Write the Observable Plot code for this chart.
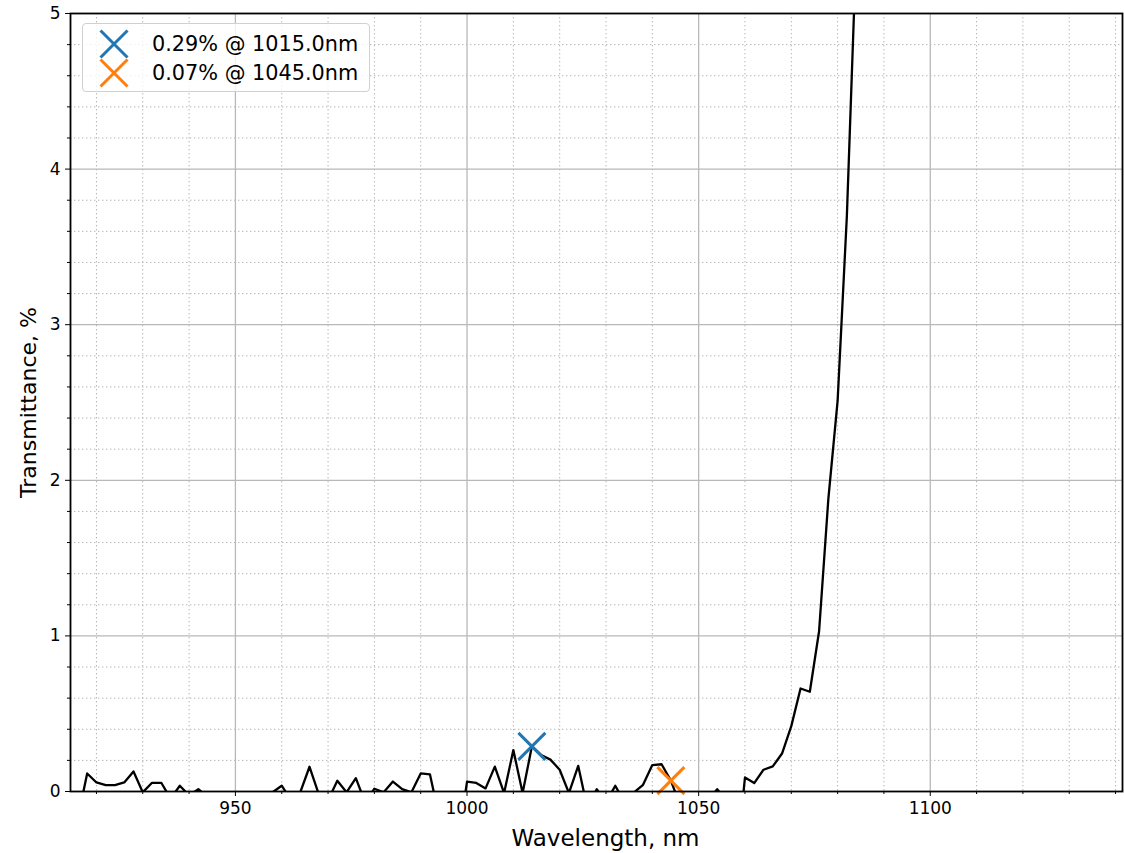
<!DOCTYPE html>
<html>
<head>
<meta charset="utf-8">
<script src="https://cdn.jsdelivr.net/npm/d3@7"></script>
<script src="https://cdn.jsdelivr.net/npm/@observablehq/plot@0.6"></script>
<style>
  html, body { margin: 0; padding: 0; background: white; }
  #wrap { position: relative; width: 1124px; height: 853px; font-family: "DejaVu Sans", sans-serif; }
  #legend {
    position: absolute; left: 82px; top: 23px; width: 288px; height: 69px;
    background: rgba(255,255,255,0.8); border: 1px solid #d0d0d0; border-radius: 4px;
    box-sizing: border-box;
  }
  .entry { position: absolute; left: 0; height: 29px; display: flex; align-items: center; }
  .entry svg { margin-left: 16px; }
  .entry span { margin-left: 23px; font-size: 20.8px; color: #000; white-space: nowrap; }
</style>
</head>
<body>
<div id="wrap"><div id="chart"></div><div id="legend"></div></div>
<script>
// Spectrum samples (nm) and transmittance (%); values below 0 are clipped by the axis.
const wavelengths = [916, 918, 920, 922, 924, 926, 928, 930, 932, 934, 936, 938, 940, 942, 944, 946, 948, 950,
  952, 954, 956, 958, 960, 962, 964, 966, 968, 970, 972, 974, 976, 978, 980, 982, 984, 986, 988, 990, 992, 994,
  996, 998, 1000, 1002, 1004, 1006, 1008, 1010, 1012, 1014, 1016, 1018, 1020, 1022, 1024, 1026, 1028, 1030,
  1032, 1034, 1036, 1038, 1040, 1042, 1044, 1046, 1048, 1050, 1052, 1054, 1056, 1058, 1060, 1062, 1064, 1066,
  1068, 1070, 1072, 1074, 1076, 1078, 1080, 1082, 1084, 1086];
const transmittance = [-0.17, 0.116, 0.058, 0.041, 0.041, 0.058, 0.129, -0.005, 0.056, 0.056, -0.045, 0.037,
  -0.025, 0.015, -0.035, -0.05, -0.05, -0.05, -0.05, -0.05, -0.05, -0.005, 0.037, -0.055, -0.005, 0.159, -0.018,
  -0.056, 0.069, -0.005, 0.086, -0.07, 0.018, -0.005, 0.064, 0.015, -0.005, 0.116, 0.11, -0.165, -0.2, -0.35,
  0.064, 0.055, 0.02, 0.16, -0.01, 0.266, -0.01, 0.29, 0.235, 0.205, 0.14, -0.01, 0.165, -0.11, 0.015, -0.07,
  0.037, -0.07, -0.007, 0.043, 0.17, 0.175, 0.07, -0.086, -0.06, -0.06, -0.06, 0.015, -0.06, -0.5, 0.09, 0.054,
  0.14, 0.161, 0.244, 0.42, 0.662, 0.641, 1.03, 1.88, 2.51, 3.7, 5.4, 7.5];

// Highlighted minima
const markerWavelengths = [1014, 1044];
const markerValues = [0.29, 0.07];
const markerColors = ["#1f77b4", "#ff7f0e"];
const markerLabels = ["0.29% @ 1015.0nm", "0.07% @ 1045.0nm"];

// Ticks
const xMajorTicks = [950, 1000, 1050, 1100];
const xMinorTicks = [920, 930, 940, 960, 970, 980, 990, 1010, 1020, 1030, 1040, 1060, 1070, 1080, 1090, 1110, 1120, 1130, 1140];
const yMajorTicks = [0, 1, 2, 3, 4, 5];
const yMinorTicks = [0.2, 0.4, 0.6, 0.8, 1.2, 1.4, 1.6, 1.8, 2.2, 2.4, 2.6, 2.8, 3.2, 3.4, 3.6, 3.8, 4.2, 4.4, 4.6, 4.8];
const xLabel = "Wavelength, nm";
const yLabel = "Transmittance, %";

const data = wavelengths.map((w, i) => ({w, t: transmittance[i]}));
const markers = markerWavelengths.map((w, i) => ({w, t: markerValues[i], color: markerColors[i]}));

const gridMinor = {stroke: "#b4b4b4", strokeWidth: 1, strokeDasharray: "1.4,2.6"};
const gridMajor = {stroke: "#b8b8b8", strokeWidth: 1.3};
const plain = d => String(d);

const chart = Plot.plot({
  width: 1124,
  height: 853,
  marginLeft: 70,
  marginRight: 2,
  marginTop: 13,
  marginBottom: 62,
  x: {domain: [914.4, 1141.5]},
  y: {domain: [0, 5]},
  style: {fontFamily: "DejaVu Sans", fontSize: "17px", color: "black", background: "white"},
  marks: [
    Plot.ruleX(xMinorTicks, gridMinor),
    Plot.ruleY(yMinorTicks, gridMinor),
    Plot.ruleX(xMajorTicks, gridMajor),
    Plot.ruleY(yMajorTicks.filter(d => d > 0 && d < 5), gridMajor),
    Plot.line(data, {x: "w", y: "t", stroke: "black", strokeWidth: 2.3, clip: true}),
    Plot.dot(markers, {x: "w", y: "t", symbol: "times", r: 12.3, stroke: "color", strokeWidth: 3}),
    Plot.axisX({ticks: xMajorTicks, tickSize: 5, tickPadding: 5, fontSize: 17, tickFormat: plain, label: null}),
    Plot.axisX({ticks: xMinorTicks, tickSize: 3, tickFormat: () => "", label: null}),
    Plot.axisY({ticks: yMajorTicks, tickSize: 5, tickPadding: 5, fontSize: 17, tickFormat: plain, label: null}),
    Plot.axisY({ticks: yMinorTicks, tickSize: 3, tickFormat: () => "", label: null}),
    Plot.frame({stroke: "black", strokeWidth: 1.8}),
    Plot.text([xLabel], {frameAnchor: "bottom", dx: 9, dy: 47, lineAnchor: "middle", fontSize: 23}),
    Plot.text([yLabel], {frameAnchor: "left", dx: -42, rotate: -90, textAnchor: "middle", lineAnchor: "middle", fontSize: 22})
  ]
});
document.getElementById("chart").appendChild(chart);

// Legend
const legend = document.getElementById("legend");
markerLabels.forEach((label, i) => {
  const row = document.createElement("div");
  row.className = "entry";
  row.style.top = (5 + i * 29) + "px";
  row.innerHTML = `<svg width="30" height="30" viewBox="-15 -15 30 30"><path d="M-13.5,-13.5L13.5,13.5M-13.5,13.5L13.5,-13.5" stroke="${markerColors[i]}" stroke-width="3"/></svg><span>${label}</span>`;
  legend.appendChild(row);
});
</script>
</body>
</html>
